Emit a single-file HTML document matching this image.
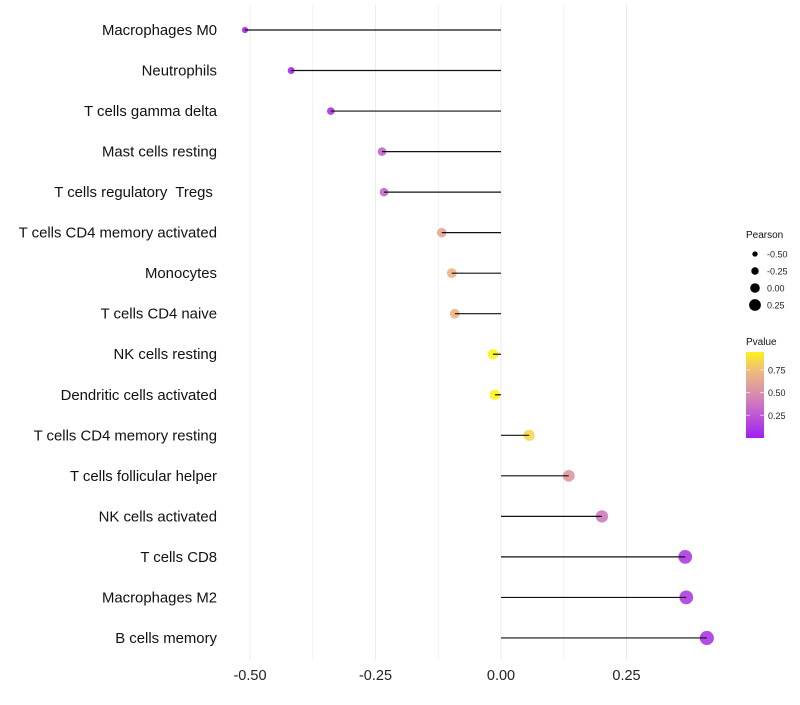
<!DOCTYPE html>
<html><head><meta charset="utf-8"><style>
body{margin:0;background:#fff;font-family:"Liberation Sans",sans-serif}
svg text{font-family:"Liberation Sans",sans-serif;white-space:pre}
</style></head><body>
<svg id="c" width="800" height="700"></svg>
<script>
const categories=["Macrophages M0","Neutrophils","T cells gamma delta","Mast cells resting","T cells regulatory  Tregs ","T cells CD4 memory activated","Monocytes","T cells CD4 naive","NK cells resting","Dendritic cells activated","T cells CD4 memory resting","T cells follicular helper","NK cells activated","T cells CD8","Macrophages M2","B cells memory"];
const pearson=[-0.51,-0.418,-0.339,-0.237,-0.233,-0.118,-0.098,-0.092,-0.016,-0.012,0.056,0.135,0.201,0.367,0.369,0.41];
const pvalue=[0.03,0.05,0.08,0.3,0.3,0.62,0.7,0.7,0.95,0.95,0.85,0.55,0.4,0.12,0.12,0.1];
const xTicks=[-0.5,-0.25,0,0.25];
const xTickLabels=["-0.50","-0.25","0.00","0.25"];
const sizeLegend=[-0.5,-0.25,0,0.25];
const sizeLegendLabels=["-0.50","-0.25","0.00","0.25"];
const colorLegend=[0.25,0.5,0.75];
const NS="http://www.w3.org/2000/svg";
const svg=document.getElementById('c');
function mk(t,a,p){const e=document.createElementNS(NS,t);for(const k in a)e.setAttribute(k,a[k]);(p||svg).appendChild(e);return e;}
const x=v=>501+v*502;
const y=i=>30+i*40.53;
const r=v=>5.3+4.3*v;
const stops=[[0,[160,32,240]],[0.33,[200,106,203]],[0.5,[217,144,168]],[0.75,[240,189,122]],[1,[255,255,0]]];
function col(p){for(let i=1;i<stops.length;i++){if(p<=stops[i][0]){const a=stops[i-1],b=stops[i],t=(p-a[0])/(b[0]-a[0]);return 'rgb('+a[1].map((c,j)=>Math.round(c+(b[1][j]-c)*t)).join(',')+')';}}return 'rgb(255,255,0)';}
for(let v=-0.5;v<=0.26;v+=0.125){const g=mk('line',{x1:x(v),x2:x(v),y1:5,y2:660,stroke:'#ebebeb','stroke-width':Math.abs((v*4)%1)<0.01?1:0.6});
}
xTicks.forEach((v,i)=>{const t=mk('text',{x:x(v),y:680,'text-anchor':'middle','font-size':14.5,fill:'#222'});t.textContent=xTickLabels[i];
});
categories.forEach((c,i)=>{
const t=mk('text',{x:217,y:y(i)+5,'text-anchor':'end','font-size':14.9,fill:'#111','xml:space':'preserve'});t.textContent=c;

const pt=mk('circle',{cx:x(pearson[i]),cy:y(i),r:r(pearson[i]),fill:col(pvalue[i]),'fill-opacity':0.9});

const s=mk('line',{x1:x(0),x2:x(pearson[i]),y1:y(i),y2:y(i),stroke:'#111','stroke-width':1.2});

});
let lt=mk('text',{x:746,y:238,'font-size':10,fill:'#111'});lt.textContent='Pearson';

sizeLegend.forEach((v,i)=>{const cy=254+i*17;
const c=mk('circle',{cx:755,cy:cy,r:r(v)-0.5,fill:'#000'});
const t=mk('text',{x:767,y:cy+3.5,'font-size':9,fill:'#222'});t.textContent=sizeLegendLabels[i];
});
lt=mk('text',{x:746,y:345,'font-size':10,fill:'#111'});lt.textContent='Pvalue';

const defs=mk('defs',{});const lg=mk('linearGradient',{id:'g',x1:0,y1:1,x2:0,y2:0},defs);
const pmax=0.946;
stops.forEach(s=>{if(s[0]<=pmax)mk('stop',{offset:s[0]/pmax,'stop-color':col(s[0])},lg);});
mk('stop',{offset:1,'stop-color':col(pmax)},lg);
const cb=mk('rect',{x:746,y:352,width:18,height:86,fill:'url(#g)'});

colorLegend.forEach(v=>{const cy=438-v/pmax*86;
mk('line',{x1:746,x2:750,y1:cy,y2:cy,stroke:'#fff','stroke-opacity':0.6});mk('line',{x1:760,x2:764,y1:cy,y2:cy,stroke:'#fff','stroke-opacity':0.6});
const t=mk('text',{x:768,y:cy+3.5,'font-size':9,fill:'#222'});t.textContent=v.toFixed(2);
});
</script>
</body></html>
